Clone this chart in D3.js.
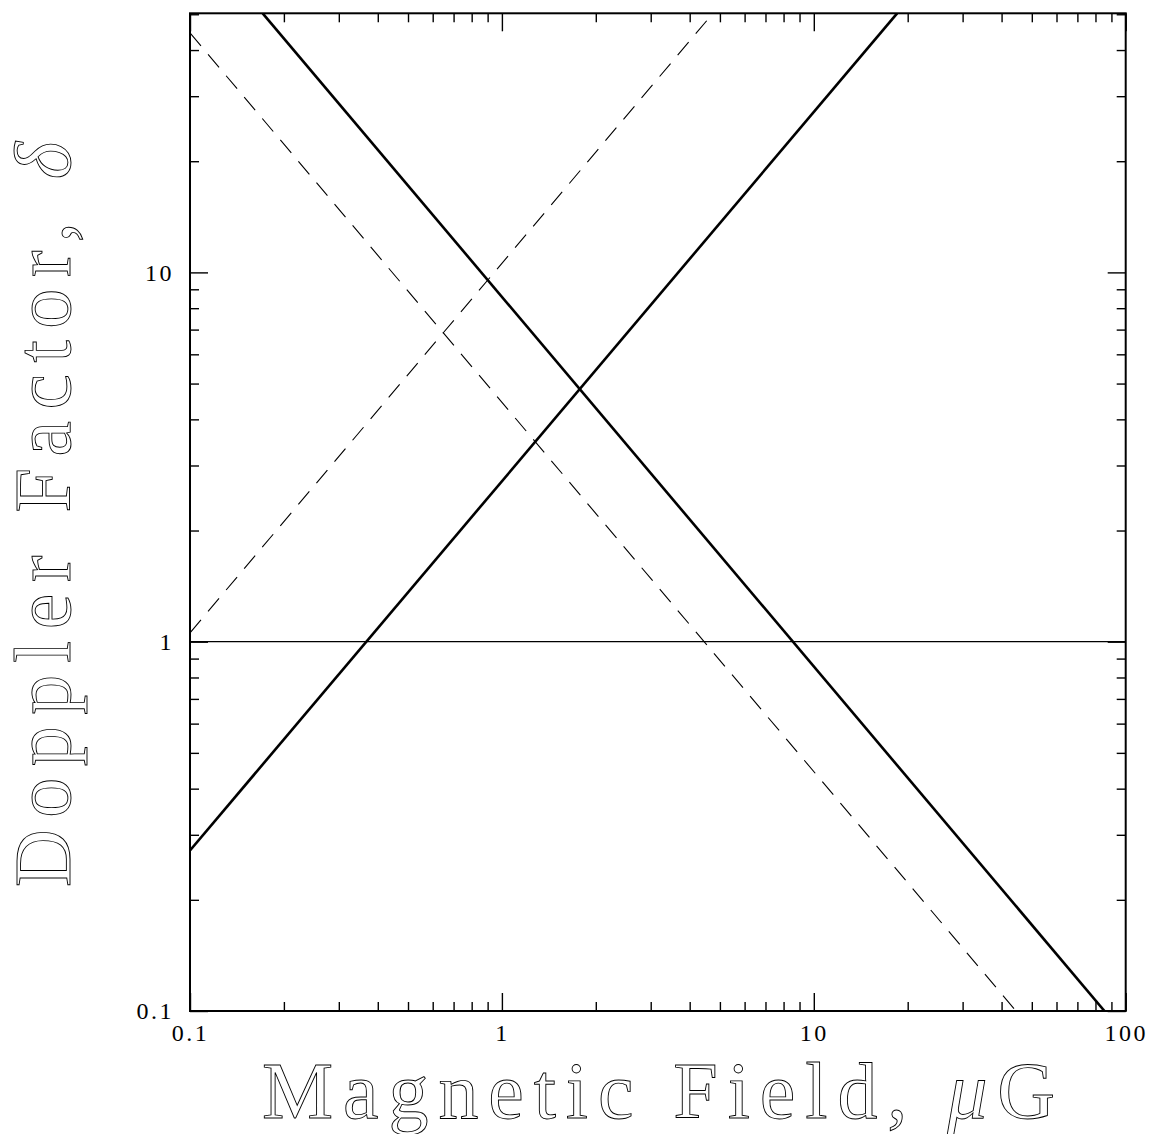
<!DOCTYPE html>
<html>
<head>
<meta charset="utf-8">
<script src="https://cdn.jsdelivr.net/npm/d3@7"></script>
<style>
  body { margin: 0; background: #fff; }
  svg { display: block; }
</style>
</head>
<body>
<div id="chart"></div>
<script>
// domains
var xDomain = [0.1, 100];
var yDomain = [0.1, 50.3];

var xMajor = [0.1, 1, 10, 100];
var yMajor = [0.1, 1, 10];
var xTickLabels = ["0.1", "1", "10", "100"];
var yTickLabels = ["0.1", "1", "10"];

// straight lines in log-log space, endpoints [B, delta]
var solidUp = [[0.1, 0.272], [18.5, 50.3]];
var solidDown = [[0.171, 50.3], [85.5, 0.1]];
var dashedUp = [[0.1, 1.057], [4.75, 50.3]];
var dashedDown = [[0.1, 44.5], [44.5, 0.1]];
var unity = [[0.1, 1], [100, 1]];

var W = 1154, H = 1134;
var margin = {left: 190, top: 13.3, right: 28.3, bottom: 123};
var iw = W - margin.left - margin.right;
var ih = H - margin.top - margin.bottom;

var svg = d3.select("#chart").append("svg").attr("width", W).attr("height", H);
var g = svg.append("g").attr("transform", "translate(" + margin.left + "," + margin.top + ")");

var x = d3.scaleLog().domain(xDomain).range([0, iw]);
var y = d3.scaleLog().domain(yDomain).range([ih, 0]);

var xMinor = x.ticks().filter(d => xMajor.indexOf(d) < 0);
var yMinor = y.ticks().filter(d => yMajor.indexOf(d) < 0);

g.append("clipPath").attr("id", "clip")
    .append("rect").attr("width", iw).attr("height", ih);

var tickFont = "'Liberation Serif', 'DejaVu Serif', serif";

function styleAxis(sel) {
    sel.select(".domain").remove();
    sel.selectAll("line").attr("stroke", "#000").attr("stroke-width", 1.4);
    sel.selectAll("text")
        .attr("font-family", tickFont)
        .attr("font-size", 24)
        .attr("letter-spacing", 2.5)
        .attr("fill", "#000");
}

// bottom / top
g.append("g").attr("transform", "translate(0," + ih + ")")
    .call(d3.axisBottom(x).tickValues(xMajor).tickFormat((d, i) => xTickLabels[i])
        .tickSize(-18).tickPadding(13)).call(styleAxis);
g.append("g").attr("transform", "translate(0," + ih + ")")
    .call(d3.axisBottom(x).tickValues(xMinor).tickFormat("").tickSize(-9)).call(styleAxis);
g.append("g")
    .call(d3.axisTop(x).tickValues(xMajor).tickFormat("").tickSize(-18)).call(styleAxis);
g.append("g")
    .call(d3.axisTop(x).tickValues(xMinor).tickFormat("").tickSize(-9)).call(styleAxis);

// left / right
g.append("g")
    .call(d3.axisLeft(y).tickValues(yMajor).tickFormat((d, i) => yTickLabels[i])
        .tickSize(-18).tickPadding(16)).call(styleAxis);
g.append("g")
    .call(d3.axisLeft(y).tickValues(yMinor).tickFormat("").tickSize(-9)).call(styleAxis);
g.append("g").attr("transform", "translate(" + iw + ",0)")
    .call(d3.axisRight(y).tickValues(yMajor).tickFormat("").tickSize(-18)).call(styleAxis);
g.append("g").attr("transform", "translate(" + iw + ",0)")
    .call(d3.axisRight(y).tickValues(yMinor).tickFormat("").tickSize(-9)).call(styleAxis);

// curves
var line = d3.line().x(d => x(d[0])).y(d => y(d[1]));
var curves = g.append("g").attr("clip-path", "url(#clip)");

curves.append("path").datum(unity)
    .attr("d", line).attr("fill", "none").attr("stroke", "#000").attr("stroke-width", 1.2);
[dashedUp, dashedDown].forEach(function (pts) {
    curves.append("path").datum(pts)
        .attr("d", line).attr("fill", "none").attr("stroke", "#000")
        .attr("stroke-width", 1.1).attr("stroke-dasharray", "17,11");
});
[solidUp, solidDown].forEach(function (pts) {
    curves.append("path").datum(pts)
        .attr("d", line).attr("fill", "none").attr("stroke", "#000")
        .attr("stroke-width", 2.6);
});

// frame
g.append("rect").attr("width", iw).attr("height", ih)
    .attr("fill", "none").attr("stroke", "#000").attr("stroke-width", 2);

// axis titles, drawn as hollow outlines
var titleFont = "'Liberation Serif', 'DejaVu Serif', serif";

var xt = svg.append("text")
    .attr("x", 262).attr("y", 1118)
    .attr("font-family", titleFont).attr("font-size", 80)
    .attr("fill", "none").attr("stroke", "#000").attr("stroke-width", 0.9)
    .attr("textLength", 793).attr("lengthAdjust", "spacing");
xt.append("tspan").text("Magnetic Field, ");
xt.append("tspan").attr("font-style", "italic").text("\u03bc");
xt.append("tspan").text("G");

var yt = svg.append("text")
    .attr("transform", "translate(70,887) rotate(-90)")
    .attr("font-family", titleFont).attr("font-size", 80)
    .attr("fill", "none").attr("stroke", "#000").attr("stroke-width", 0.9)
    .attr("textLength", 745).attr("lengthAdjust", "spacing");
yt.append("tspan").text("Doppler Factor, ");
yt.append("tspan").attr("font-style", "italic").text("\u03b4");
</script>
</body>
</html>
